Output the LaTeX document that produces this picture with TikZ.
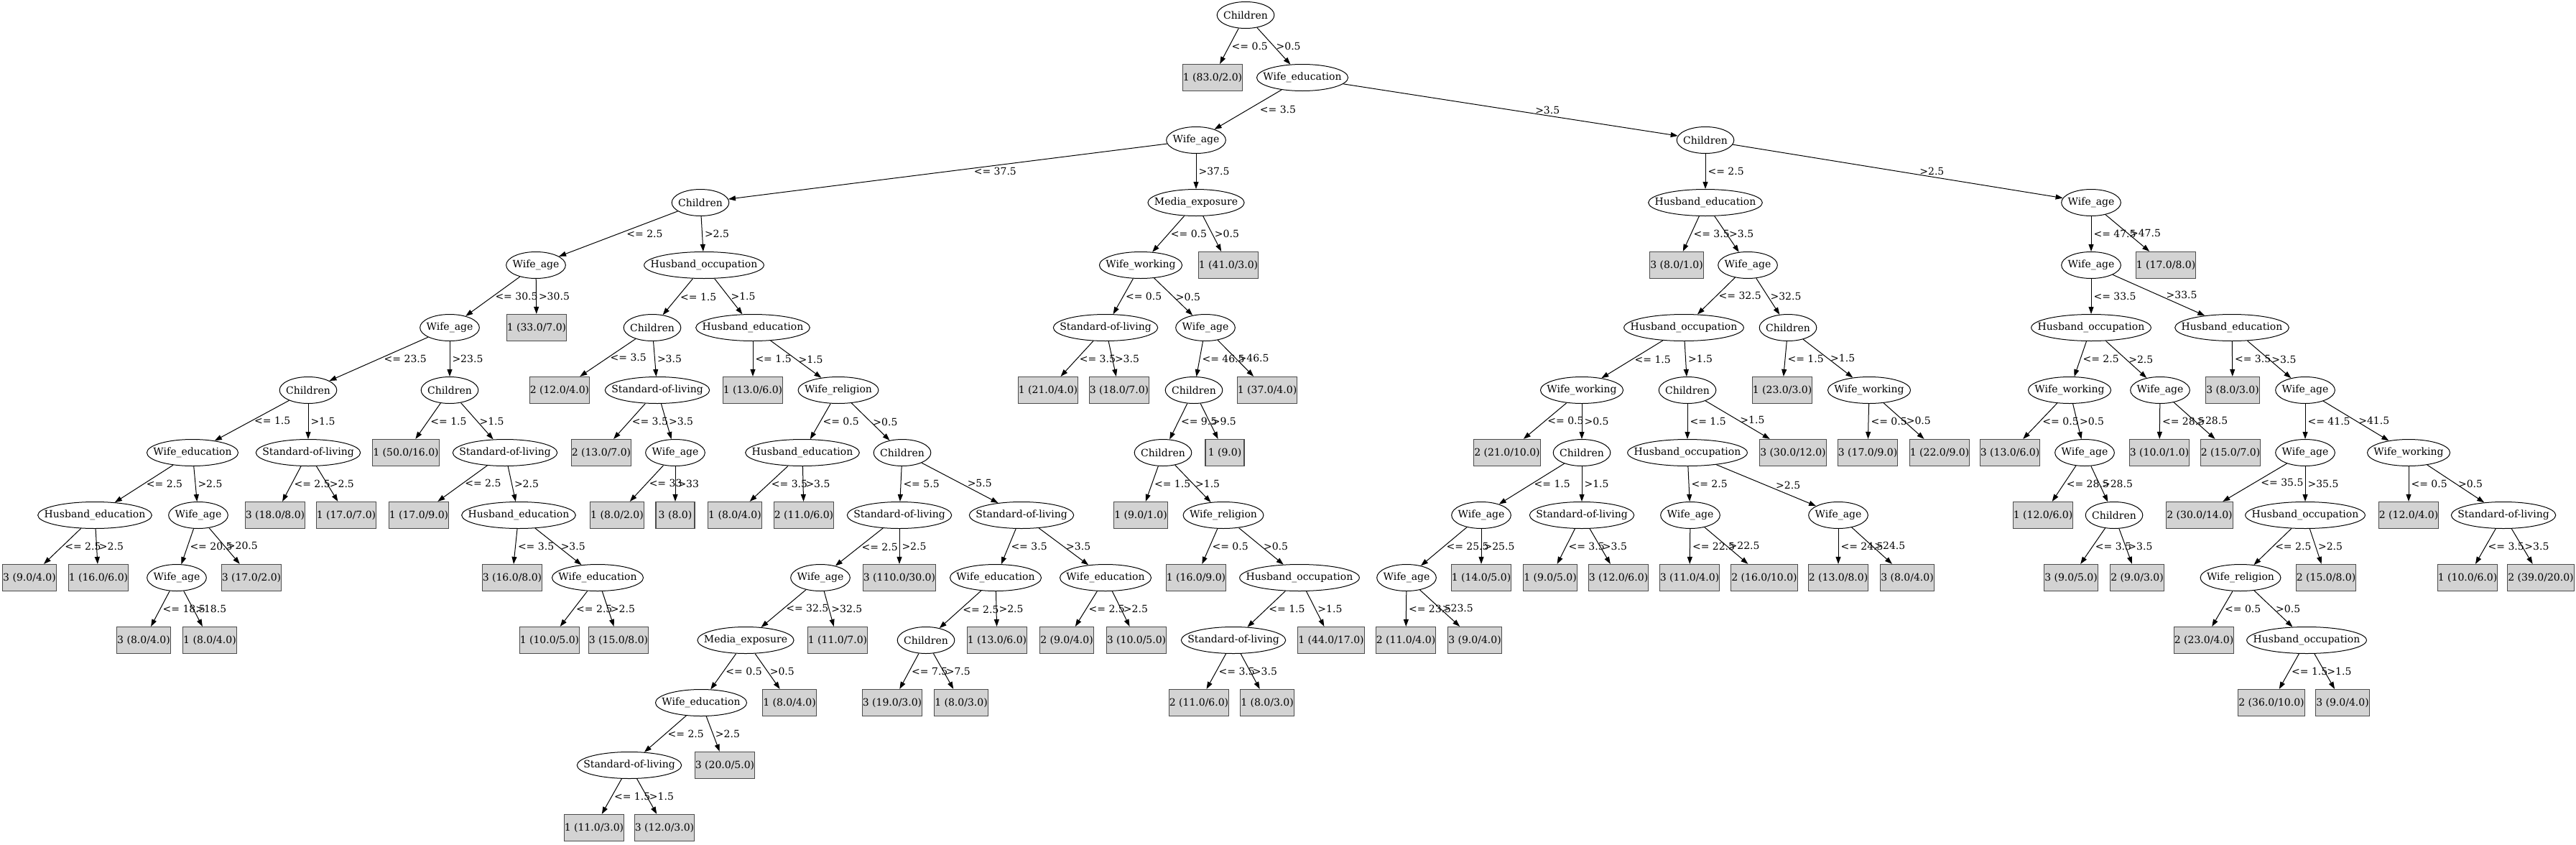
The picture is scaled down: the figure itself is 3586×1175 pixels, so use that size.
\documentclass[tikz,border=0pt]{standalone}
\usepackage{fontspec}
\setmainfont{DejaVu Serif}
\usepackage{tikz}
\usetikzlibrary{shapes.geometric}
\usetikzlibrary{arrows.meta}
\definecolor{leafgray}{HTML}{D3D3D3}
\newcommand{\treefont}{\fontsize{14pt}{16pt}\selectfont}
\newlength{\splitw}
\newcommand{\splitnode}[4]{%
  \pgfinterruptpicture\settowidth{\splitw}{\treefont #4}\global\splitw=\splitw\endpgfinterruptpicture
  \pgfmathsetlengthmacro{\splitwd}{\splitw+18pt}%
  \node[split node, minimum width=\splitwd] (#1) at (#2,#3) {#4};}

\begin{document}
\begin{tikzpicture}[x=1pt,y=-1pt,
  every node/.style={font=\treefont},
  split node/.style={ellipse, draw, line width=1pt, inner xsep=-40pt, inner ysep=0pt, minimum height=37pt},
  leaf node/.style={rectangle, draw=black!70, fill=leafgray, line width=1.2pt, inner xsep=0.5pt, inner ysep=0pt, minimum height=37pt, minimum width=54pt},
  tree edge/.style={-{Triangle[length=10pt,width=7pt]}, line width=1pt},
  lbl/.style={anchor=west, inner sep=0pt, xshift=3pt}]
\useasboundingbox (0,0) rectangle (3586,1175);
% Nodes
\splitnode{1}{1734}{21}{Children}
\node[leaf node] (2) at (1688,108) {1 (83.0/2.0)};
\splitnode{3}{1813}{108}{Wife\_education}
\splitnode{4}{1665}{195}{Wife\_age}
\splitnode{5}{2374}{195}{Children}
\splitnode{6}{975}{282}{Children}
\splitnode{7}{1665}{282}{Media\_exposure}
\splitnode{8}{2374}{282}{Husband\_education}
\splitnode{9}{2911}{282}{Wife\_age}
\splitnode{10}{746}{369}{Wife\_age}
\splitnode{11}{980}{369}{Husband\_occupation}
\splitnode{12}{1588}{369}{Wife\_working}
\node[leaf node] (13) at (1710,369) {1 (41.0/3.0)};
\node[leaf node] (14) at (2334,369) {3 (8.0/1.0)};
\splitnode{15}{2433}{369}{Wife\_age}
\splitnode{16}{2911}{369}{Wife\_age}
\node[leaf node] (17) at (3015,369) {1 (17.0/8.0)};
\splitnode{18}{626}{456}{Wife\_age}
\node[leaf node] (19) at (747,456) {1 (33.0/7.0)};
\splitnode{20}{908}{456}{Children}
\splitnode{21}{1048}{456}{Husband\_education}
\splitnode{22}{1539}{456}{Standard-of-living}
\splitnode{23}{1678}{456}{Wife\_age}
\splitnode{24}{2344}{456}{Husband\_occupation}
\splitnode{25}{2489}{456}{Children}
\splitnode{26}{2911}{456}{Husband\_occupation}
\splitnode{27}{3107}{456}{Husband\_education}
\splitnode{28}{429}{543}{Children}
\splitnode{29}{626}{543}{Children}
\node[leaf node] (30) at (779,543) {2 (12.0/4.0)};
\splitnode{31}{915}{543}{Standard-of-living}
\node[leaf node] (32) at (1048,543) {1 (13.0/6.0)};
\splitnode{33}{1167}{543}{Wife\_religion}
\node[leaf node] (34) at (1459,543) {1 (21.0/4.0)};
\node[leaf node] (35) at (1558,543) {3 (18.0/7.0)};
\splitnode{36}{1662}{543}{Children}
\node[leaf node] (37) at (1764,543) {1 (37.0/4.0)};
\splitnode{38}{2202}{543}{Wife\_working}
\splitnode{39}{2349}{543}{Children}
\node[leaf node] (40) at (2481,543) {1 (23.0/3.0)};
\splitnode{41}{2602}{543}{Wife\_working}
\splitnode{42}{2881}{543}{Wife\_working}
\splitnode{43}{3007}{543}{Wife\_age}
\node[leaf node] (44) at (3108,543) {3 (8.0/3.0)};
\splitnode{45}{3209}{543}{Wife\_age}
\splitnode{46}{268}{630}{Wife\_education}
\splitnode{47}{429}{630}{Standard-of-living}
\node[leaf node] (48) at (565,630) {1 (50.0/16.0)};
\splitnode{49}{703}{630}{Standard-of-living}
\node[leaf node] (50) at (837,630) {2 (13.0/7.0)};
\splitnode{51}{940}{630}{Wife\_age}
\splitnode{52}{1117}{630}{Husband\_education}
\splitnode{53}{1256}{630}{Children}
\splitnode{54}{1619}{630}{Children}
\node[leaf node] (55) at (1705,630) {1 (9.0)};
\node[leaf node] (56) at (2098,630) {2 (21.0/10.0)};
\splitnode{57}{2202}{630}{Children}
\splitnode{58}{2349}{630}{Husband\_occupation}
\node[leaf node] (59) at (2496,630) {3 (30.0/12.0)};
\node[leaf node] (60) at (2600,630) {3 (17.0/9.0)};
\node[leaf node] (61) at (2700,630) {1 (22.0/9.0)};
\node[leaf node] (62) at (2798,630) {3 (13.0/6.0)};
\splitnode{63}{2902}{630}{Wife\_age}
\node[leaf node] (64) at (3006,630) {3 (10.0/1.0)};
\node[leaf node] (65) at (3105,630) {2 (15.0/7.0)};
\splitnode{66}{3209}{630}{Wife\_age}
\splitnode{67}{3353}{630}{Wife\_working}
\splitnode{68}{132}{717}{Husband\_education}
\splitnode{69}{276}{717}{Wife\_age}
\node[leaf node] (70) at (383,717) {3 (18.0/8.0)};
\node[leaf node] (71) at (482,717) {1 (17.0/7.0)};
\node[leaf node] (72) at (583,717) {1 (17.0/9.0)};
\splitnode{73}{722}{717}{Husband\_education}
\node[leaf node] (74) at (859,717) {1 (8.0/2.0)};
\node[leaf node] (75) at (940,717) {3 (8.0)};
\node[leaf node] (76) at (1023,717) {1 (8.0/4.0)};
\node[leaf node] (77) at (1119,717) {2 (11.0/6.0)};
\splitnode{78}{1252}{717}{Standard-of-living}
\splitnode{79}{1422}{717}{Standard-of-living}
\node[leaf node] (80) at (1588,717) {1 (9.0/1.0)};
\splitnode{81}{1703}{717}{Wife\_religion}
\splitnode{82}{2062}{717}{Wife\_age}
\splitnode{83}{2202}{717}{Standard-of-living}
\splitnode{84}{2353}{717}{Wife\_age}
\splitnode{85}{2559}{717}{Wife\_age}
\node[leaf node] (86) at (2844,717) {1 (12.0/6.0)};
\splitnode{87}{2943}{717}{Children}
\node[leaf node] (88) at (3062,717) {2 (30.0/14.0)};
\splitnode{89}{3209}{717}{Husband\_occupation}
\node[leaf node] (90) at (3353,717) {2 (12.0/4.0)};
\splitnode{91}{3485}{717}{Standard-of-living}
\node[leaf node] (92) at (41,804) {3 (9.0/4.0)};
\node[leaf node] (93) at (137,804) {1 (16.0/6.0)};
\splitnode{94}{246}{804}{Wife\_age}
\node[leaf node] (95) at (350,804) {3 (17.0/2.0)};
\node[leaf node] (96) at (713,804) {3 (16.0/8.0)};
\splitnode{97}{832}{804}{Wife\_education}
\splitnode{98}{1142}{804}{Wife\_age}
\node[leaf node] (99) at (1252,804) {3 (110.0/30.0)};
\splitnode{100}{1386}{804}{Wife\_education}
\splitnode{101}{1539}{804}{Wife\_education}
\node[leaf node] (102) at (1665,804) {1 (16.0/9.0)};
\splitnode{103}{1809}{804}{Husband\_occupation}
\splitnode{104}{1958}{804}{Wife\_age}
\node[leaf node] (105) at (2062,804) {1 (14.0/5.0)};
\node[leaf node] (106) at (2158,804) {1 (9.0/5.0)};
\node[leaf node] (107) at (2253,804) {3 (12.0/6.0)};
\node[leaf node] (108) at (2352,804) {3 (11.0/4.0)};
\node[leaf node] (109) at (2456,804) {2 (16.0/10.0)};
\node[leaf node] (110) at (2559,804) {2 (13.0/8.0)};
\node[leaf node] (111) at (2655,804) {3 (8.0/4.0)};
\node[leaf node] (112) at (2883,804) {3 (9.0/5.0)};
\node[leaf node] (113) at (2975,804) {2 (9.0/3.0)};
\splitnode{114}{3119}{804}{Wife\_religion}
\node[leaf node] (115) at (3238,804) {2 (15.0/8.0)};
\node[leaf node] (116) at (3435,804) {1 (10.0/6.0)};
\node[leaf node] (117) at (3537,804) {2 (39.0/20.0)};
\node[leaf node] (118) at (200,891) {3 (8.0/4.0)};
\node[leaf node] (119) at (292,891) {1 (8.0/4.0)};
\node[leaf node] (120) at (765,891) {1 (10.0/5.0)};
\node[leaf node] (121) at (861,891) {3 (15.0/8.0)};
\splitnode{122}{1038}{891}{Media\_exposure}
\node[leaf node] (123) at (1166,891) {1 (11.0/7.0)};
\splitnode{124}{1289}{891}{Children}
\node[leaf node] (125) at (1388,891) {1 (13.0/6.0)};
\node[leaf node] (126) at (1485,891) {2 (9.0/4.0)};
\node[leaf node] (127) at (1582,891) {3 (10.0/5.0)};
\splitnode{128}{1717}{891}{Standard-of-living}
\node[leaf node] (129) at (1853,891) {1 (44.0/17.0)};
\node[leaf node] (130) at (1957,891) {2 (11.0/4.0)};
\node[leaf node] (131) at (2053,891) {3 (9.0/4.0)};
\node[leaf node] (132) at (3068,891) {2 (23.0/4.0)};
\splitnode{133}{3211}{891}{Husband\_occupation}
\splitnode{134}{976}{978}{Wife\_education}
\node[leaf node] (135) at (1099,978) {1 (8.0/4.0)};
\node[leaf node] (136) at (1242,978) {3 (19.0/3.0)};
\node[leaf node] (137) at (1338,978) {1 (8.0/3.0)};
\node[leaf node] (138) at (1669,978) {2 (11.0/6.0)};
\node[leaf node] (139) at (1764,978) {1 (8.0/3.0)};
\node[leaf node] (140) at (3162,978) {2 (36.0/10.0)};
\node[leaf node] (141) at (3261,978) {3 (9.0/4.0)};
\splitnode{142}{876}{1065}{Standard-of-living}
\node[leaf node] (143) at (1009,1065) {3 (20.0/5.0)};
\node[leaf node] (144) at (827,1152) {1 (11.0/3.0)};
\node[leaf node] (145) at (925,1152) {3 (12.0/3.0)};

\path[tree edge]
(1) edge node[lbl] {<= 0.5} (2)
    edge node[lbl] {>0.5} (3)
(3) edge node[lbl, xshift=13pt] {<= 3.5} (4)
    edge node[lbl, xshift=31pt] {>3.5} (5)
(4) edge node[lbl, xshift=33pt] {<= 37.5} (6)
    edge node[lbl] {>37.5} (7)
(5) edge node[lbl] {<= 2.5} (8)
    edge node[lbl, xshift=27pt] {>2.5} (9)
(6) edge node[lbl, xshift=8pt] {<= 2.5} (10)
    edge node[lbl] {>2.5} (11)
(7) edge node[lbl] {<= 0.5} (12)
    edge node[lbl] {>0.5} (13)
(8) edge node[lbl] {<= 3.5} (14)
    edge node[lbl] {>3.5} (15)
(9) edge node[lbl] {<= 47.5} (16)
    edge node[lbl] {>47.5} (17)
(10) edge node[lbl] {<= 30.5} (18)
     edge node[lbl] {>30.5} (19)
(11) edge node[lbl] {<= 1.5} (20)
     edge node[lbl] {>1.5} (21)
(12) edge node[lbl] {<= 0.5} (22)
     edge node[lbl] {>0.5} (23)
(15) edge node[lbl] {<= 32.5} (24)
     edge node[lbl] {>32.5} (25)
(16) edge node[lbl] {<= 33.5} (26)
     edge node[lbl, xshift=7pt] {>33.5} (27)
(18) edge node[lbl, xshift=4pt] {<= 23.5} (28)
     edge node[lbl] {>23.5} (29)
(20) edge node[lbl] {<= 3.5} (30)
     edge node[lbl] {>3.5} (31)
(21) edge node[lbl] {<= 1.5} (32)
     edge node[lbl] {>1.5} (33)
(22) edge node[lbl] {<= 3.5} (34)
     edge node[lbl] {>3.5} (35)
(23) edge node[lbl] {<= 46.5} (36)
     edge node[lbl] {>46.5} (37)
(24) edge node[lbl] {<= 1.5} (38)
     edge node[lbl] {>1.5} (39)
(25) edge node[lbl] {<= 1.5} (40)
     edge node[lbl] {>1.5} (41)
(26) edge node[lbl] {<= 2.5} (42)
     edge node[lbl] {>2.5} (43)
(27) edge node[lbl] {<= 3.5} (44)
     edge node[lbl] {>3.5} (45)
(28) edge node[lbl] {<= 1.5} (46)
     edge node[lbl] {>1.5} (47)
(29) edge node[lbl] {<= 1.5} (48)
     edge node[lbl] {>1.5} (49)
(31) edge node[lbl] {<= 3.5} (50)
     edge node[lbl] {>3.5} (51)
(33) edge node[lbl] {<= 0.5} (52)
     edge node[lbl] {>0.5} (53)
(36) edge node[lbl] {<= 9.5} (54)
     edge node[lbl] {>9.5} (55)
(38) edge node[lbl] {<= 0.5} (56)
     edge node[lbl] {>0.5} (57)
(39) edge node[lbl] {<= 1.5} (58)
     edge node[lbl] {>1.5} (59)
(41) edge node[lbl] {<= 0.5} (60)
     edge node[lbl] {>0.5} (61)
(42) edge node[lbl] {<= 0.5} (62)
     edge node[lbl] {>0.5} (63)
(43) edge node[lbl] {<= 28.5} (64)
     edge node[lbl] {>28.5} (65)
(45) edge node[lbl] {<= 41.5} (66)
     edge node[lbl] {>41.5} (67)
(46) edge node[lbl] {<= 2.5} (68)
     edge node[lbl] {>2.5} (69)
(47) edge node[lbl] {<= 2.5} (70)
     edge node[lbl] {>2.5} (71)
(49) edge node[lbl] {<= 2.5} (72)
     edge node[lbl] {>2.5} (73)
(51) edge node[lbl] {<= 33} (74)
     edge node[lbl] {>33} (75)
(52) edge node[lbl] {<= 3.5} (76)
     edge node[lbl] {>3.5} (77)
(53) edge node[lbl] {<= 5.5} (78)
     edge node[lbl, xshift=7pt] {>5.5} (79)
(54) edge node[lbl] {<= 1.5} (80)
     edge node[lbl] {>1.5} (81)
(57) edge node[lbl] {<= 1.5} (82)
     edge node[lbl] {>1.5} (83)
(58) edge node[lbl] {<= 2.5} (84)
     edge node[lbl, xshift=10pt] {>2.5} (85)
(63) edge node[lbl] {<= 28.5} (86)
     edge node[lbl] {>28.5} (87)
(66) edge node[lbl, xshift=5pt] {<= 35.5} (88)
     edge node[lbl] {>35.5} (89)
(67) edge node[lbl] {<= 0.5} (90)
     edge node[lbl] {>0.5} (91)
(68) edge node[lbl] {<= 2.5} (92)
     edge node[lbl] {>2.5} (93)
(69) edge node[lbl] {<= 20.5} (94)
     edge node[lbl] {>20.5} (95)
(73) edge node[lbl] {<= 3.5} (96)
     edge node[lbl] {>3.5} (97)
(78) edge node[lbl] {<= 2.5} (98)
     edge node[lbl] {>2.5} (99)
(79) edge node[lbl] {<= 3.5} (100)
     edge node[lbl] {>3.5} (101)
(81) edge node[lbl] {<= 0.5} (102)
     edge node[lbl] {>0.5} (103)
(82) edge node[lbl] {<= 25.5} (104)
     edge node[lbl] {>25.5} (105)
(83) edge node[lbl] {<= 3.5} (106)
     edge node[lbl] {>3.5} (107)
(84) edge node[lbl] {<= 22.5} (108)
     edge node[lbl] {>22.5} (109)
(85) edge node[lbl] {<= 24.5} (110)
     edge node[lbl] {>24.5} (111)
(87) edge node[lbl] {<= 3.5} (112)
     edge node[lbl] {>3.5} (113)
(89) edge node[lbl] {<= 2.5} (114)
     edge node[lbl] {>2.5} (115)
(91) edge node[lbl] {<= 3.5} (116)
     edge node[lbl] {>3.5} (117)
(94) edge node[lbl] {<= 18.5} (118)
     edge node[lbl] {>18.5} (119)
(97) edge node[lbl] {<= 2.5} (120)
     edge node[lbl] {>2.5} (121)
(98) edge node[lbl] {<= 32.5} (122)
     edge node[lbl] {>32.5} (123)
(100) edge node[lbl] {<= 2.5} (124)
      edge node[lbl] {>2.5} (125)
(101) edge node[lbl] {<= 2.5} (126)
      edge node[lbl] {>2.5} (127)
(103) edge node[lbl] {<= 1.5} (128)
      edge node[lbl] {>1.5} (129)
(104) edge node[lbl] {<= 23.5} (130)
      edge node[lbl] {>23.5} (131)
(114) edge node[lbl] {<= 0.5} (132)
      edge node[lbl] {>0.5} (133)
(122) edge node[lbl] {<= 0.5} (134)
      edge node[lbl] {>0.5} (135)
(124) edge node[lbl] {<= 7.5} (136)
      edge node[lbl] {>7.5} (137)
(128) edge node[lbl] {<= 3.5} (138)
      edge node[lbl] {>3.5} (139)
(133) edge node[lbl] {<= 1.5} (140)
      edge node[lbl] {>1.5} (141)
(134) edge node[lbl] {<= 2.5} (142)
      edge node[lbl] {>2.5} (143)
(142) edge node[lbl] {<= 1.5} (144)
      edge node[lbl] {>1.5} (145);
\end{tikzpicture}
\end{document}
